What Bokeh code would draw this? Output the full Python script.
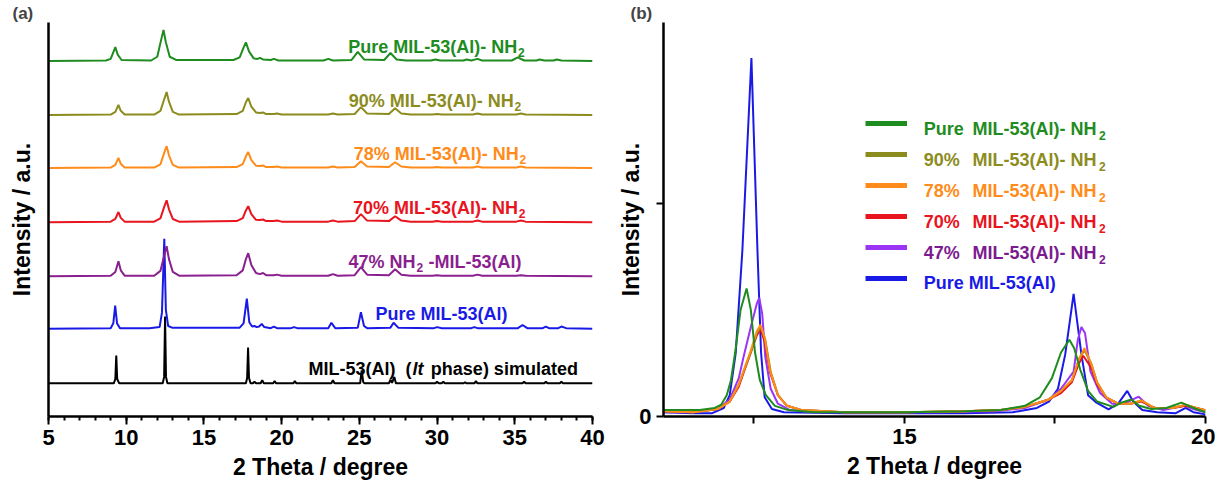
from bokeh.plotting import figure
from bokeh.layouts import row
from bokeh.models import Range1d, FixedTicker, Label, Legend, LegendItem
from bokeh.embed import file_html
from bokeh.resources import INLINE

FONT = "Liberation Sans"
NAN = float("nan")

# ---------------- data: panel (a), 2theta (deg), intensity above each baseline (a.u.)
sim_a = [(5.0,0.0),(9.2,0.0),(9.3,0.08),(9.36,0.52),(9.42,0.08),(9.55,0.0),
         (12.35,0.0),(12.44,0.12),(12.5,1.25),(12.56,0.12),(12.65,0.0),
         (17.7,0.0),(17.78,0.1),(17.84,0.67),(17.9,0.1),(18.0,0.0),
         (18.15,0.0),(18.25,0.03),(18.35,0.0),(18.65,0.0),(18.75,0.06),(18.85,0.0),
         (19.45,0.0),(19.55,0.04),(19.65,0.0),(20.75,0.0),(20.85,0.04),(20.95,0.0),
         (23.2,0.0),(23.3,0.06),(23.4,0.0),(25.05,0.0),(25.15,0.24),(25.25,0.02),(25.35,0.0),
         (26.9,0.0),(27.0,0.07),(27.1,0.01),(27.25,0.12),(27.35,0.0),
         (29.9,0.0),(30.0,0.03),(30.1,0.0),(30.3,0.0),(30.4,0.03),(30.5,0.0),
         (31.7,0.0),(31.8,0.02),(31.9,0.0),(32.4,0.0),(32.5,0.04),(32.6,0.0),
         (35.5,0.0),(35.6,0.03),(35.7,0.0),(36.9,0.0),(37.0,0.03),(37.1,0.0),
         (37.9,0.0),(38.0,0.03),(38.1,0.0),(40.0,0.0)]

blue_a = [(5.0,0.0),(9.0,0.01),(9.17,0.1),(9.29,0.43),(9.41,0.1),(9.6,0.01),
          (11.5,0.01),(12.15,0.03),(12.3,0.3),(12.45,1.68),(12.55,0.35),(12.7,0.05),(12.95,0.02),
          (17.3,0.02),(17.55,0.1),(17.76,0.56),(17.92,0.12),(18.1,0.04),(18.25,0.05),(18.4,0.03),
          (18.55,0.04),(18.72,0.09),(18.88,0.03),(19.3,0.01),(19.5,0.04),(19.7,0.01),
          (20.6,0.01),(20.8,0.03),(21.0,0.01),(23.0,0.01),(23.2,0.11),(23.45,0.01),
          (24.9,0.02),(25.1,0.31),(25.3,0.05),(25.5,0.01),(27.0,0.02),(27.2,0.11),(27.5,0.02),
          (29.8,0.01),(30.0,0.03),(30.3,0.01),(32.2,0.01),(32.4,0.03),(32.6,0.01),
          (35.2,0.01),(35.5,0.07),(35.8,0.01),(36.8,0.01),(37.0,0.04),(37.2,0.01),
          (37.8,0.01),(38.0,0.04),(38.3,0.01),(40.0,0.0)]

purple_a = [(5.0,0.0),(9.0,0.01),(9.3,0.08),(9.5,0.28),(9.65,0.11),(9.9,0.01),
            (11.8,0.01),(12.2,0.1),(12.45,0.39),(12.6,0.56),(12.75,0.32),(13.0,0.08),(13.4,0.01),
            (17.1,0.02),(17.5,0.11),(17.7,0.32),(17.85,0.43),(18.05,0.21),(18.35,0.06),
            (18.6,0.04),(18.8,0.06),(19.0,0.02),(19.5,0.02),(19.7,0.03),(20.0,0.01),
            (23.0,0.01),(23.3,0.04),(23.6,0.01),(24.7,0.02),(25.1,0.17),(25.5,0.03),
            (26.9,0.02),(27.3,0.13),(27.7,0.03),(28.3,0.01),(29.7,0.01),(30.0,0.02),(30.3,0.01),
            (32.3,0.01),(32.6,0.03),(32.9,0.01),(35.1,0.01),(35.4,0.02),(35.7,0.01),(40.0,0.0)]

red_a = [(5.0,0.0),(9.0,0.01),(9.3,0.06),(9.5,0.19),(9.65,0.08),(9.9,0.01),
         (11.8,0.01),(12.2,0.07),(12.45,0.29),(12.6,0.41),(12.75,0.24),(13.0,0.06),(13.4,0.01),
         (17.1,0.02),(17.5,0.075),(17.7,0.22),(17.85,0.30),(18.05,0.15),(18.35,0.045),
         (18.6,0.04),(18.8,0.05),(19.0,0.02),(19.5,0.02),(19.7,0.03),(20.0,0.01),
         (23.0,0.01),(23.3,0.03),(23.6,0.01),(24.7,0.02),(25.1,0.15),(25.5,0.03),
         (26.9,0.02),(27.3,0.11),(27.7,0.03),(28.3,0.01),(29.7,0.01),(30.0,0.02),(30.3,0.01),
         (32.3,0.01),(32.6,0.03),(32.9,0.01),(35.1,0.01),(35.4,0.03),(35.7,0.01),(40.0,0.0)]

orange_a = [(5.0,0.0),(9.0,0.01),(9.3,0.06),(9.5,0.19),(9.65,0.08),(9.9,0.01),
            (11.8,0.01),(12.2,0.07),(12.45,0.29),(12.6,0.41),(12.75,0.24),(13.0,0.06),(13.4,0.01),
            (17.1,0.02),(17.5,0.075),(17.7,0.22),(17.85,0.30),(18.05,0.15),(18.35,0.045),
            (18.6,0.04),(18.8,0.05),(19.0,0.02),(19.5,0.02),(19.7,0.03),(20.0,0.01),
            (23.0,0.01),(23.3,0.03),(23.6,0.01),(24.7,0.02),(25.1,0.13),(25.5,0.03),
            (26.9,0.02),(27.3,0.11),(27.7,0.03),(28.3,0.01),(29.7,0.01),(30.0,0.02),(30.3,0.01),
            (32.3,0.01),(32.6,0.03),(32.9,0.01),(35.1,0.01),(35.4,0.03),(35.7,0.01),(40.0,0.0)]

olive_a = [(5.0,0.0),(9.0,0.01),(9.3,0.06),(9.5,0.19),(9.65,0.08),(9.9,0.01),
           (11.8,0.01),(12.2,0.08),(12.45,0.30),(12.6,0.43),(12.75,0.25),(13.0,0.06),(13.4,0.01),
           (17.1,0.02),(17.5,0.08),(17.7,0.24),(17.85,0.32),(18.05,0.16),(18.35,0.05),
           (18.6,0.04),(18.8,0.05),(19.0,0.02),(19.5,0.02),(19.7,0.03),(20.0,0.01),
           (23.0,0.01),(23.3,0.03),(23.6,0.01),(24.7,0.02),(25.1,0.15),(25.5,0.03),
           (26.9,0.02),(27.3,0.13),(27.7,0.03),(28.3,0.01),(29.7,0.01),(30.0,0.02),(30.3,0.01),
           (32.3,0.01),(32.6,0.03),(32.9,0.01),(35.1,0.01),(35.4,0.03),(35.7,0.01),(40.0,0.0)]

green_a = [(5.0,0.0),(8.7,0.01),(9.0,0.04),(9.15,0.15),(9.3,0.26),(9.45,0.12),(9.7,0.02),
           (11.6,0.01),(12.0,0.08),(12.25,0.4),(12.4,0.58),(12.55,0.35),(12.8,0.08),(13.2,0.02),
           (16.9,0.02),(17.3,0.07),(17.55,0.25),(17.7,0.35),(17.9,0.18),(18.2,0.05),
           (18.45,0.04),(18.6,0.06),(18.8,0.03),(19.3,0.02),(19.5,0.04),(19.8,0.01),
           (22.7,0.01),(23.0,0.04),(23.3,0.01),(24.5,0.02),(24.9,0.17),(25.3,0.03),
           (26.6,0.02),(27.0,0.15),(27.4,0.03),(28.0,0.01),(29.6,0.01),(29.9,0.03),(30.2,0.01),
           (31.7,0.01),(31.9,0.03),(32.2,0.01),(32.6,0.04),(32.9,0.01),(34.8,0.01),(35.2,0.07),
           (35.6,0.01),(36.4,0.01),(36.6,0.03),(36.9,0.01),(37.5,0.01),(37.7,0.03),(38.0,0.01),(40.0,0.0)]

# ---------------- data: panel (b)
blue_b = [(11.0,0.02),(11.5,0.015),(11.8,0.015),(12.0,0.04),(12.1,0.1),(12.2,0.3),(12.31,0.78),
          (12.46,1.68),(12.56,0.78),(12.62,0.3),(12.68,0.09),(12.8,0.035),(13.0,0.02),(14.0,0.015),
          (15.0,0.015),(16.0,0.015),(16.8,0.02),(17.2,0.04),(17.4,0.07),(17.55,0.13),(17.67,0.29),
          (17.81,0.575),(17.94,0.29),(18.05,0.1),(18.19,0.065),(18.39,0.033),(18.55,0.06),
          (18.7,0.12),(18.8,0.07),(18.95,0.03),(19.2,0.02),(19.5,0.015),(19.67,0.04),(19.8,0.02),(20.0,0.01)]

purple_b = [(11.0,0.02),(11.5,0.02),(11.9,0.035),(12.1,0.08),(12.25,0.18),(12.33,0.28),(12.45,0.42),
            (12.55,0.53),(12.59,0.556),(12.64,0.48),(12.69,0.28),(12.78,0.13),(12.9,0.06),(13.1,0.03),
            (13.5,0.02),(14.5,0.02),(15.5,0.02),(16.5,0.025),(17.0,0.04),(17.4,0.08),(17.6,0.13),
            (17.81,0.21),(17.88,0.36),(17.94,0.42),(18.0,0.39),(18.09,0.21),(18.25,0.11),(18.45,0.06),
            (18.65,0.06),(18.89,0.093),(19.05,0.05),(19.3,0.03),(19.65,0.05),(19.85,0.03),(20.0,0.02)]

red_b = [(11.0,0.025),(11.5,0.02),(11.9,0.035),(12.1,0.07),(12.25,0.14),(12.33,0.205),(12.45,0.3),
         (12.55,0.38),(12.61,0.41),(12.68,0.35),(12.77,0.205),(12.9,0.1),(13.05,0.05),(13.3,0.03),
         (14.0,0.02),(15.0,0.02),(16.0,0.025),(16.6,0.03),(17.0,0.045),(17.4,0.08),(17.6,0.11),
         (17.78,0.16),(17.9,0.25),(17.97,0.285),(18.1,0.23),(18.2,0.15),(18.35,0.09),(18.55,0.06),
         (18.75,0.06),(18.94,0.07),(19.15,0.04),(19.45,0.04),(19.67,0.05),(19.85,0.04),(20.0,0.03)]

olive_b = [(11.0,0.025),(11.5,0.02),(11.9,0.035),(12.1,0.07),(12.25,0.15),(12.33,0.21),(12.45,0.3),
           (12.55,0.39),(12.62,0.42),(12.69,0.36),(12.78,0.21),(12.9,0.1),(13.05,0.05),(13.3,0.03),
           (14.0,0.02),(15.0,0.02),(16.0,0.025),(16.6,0.03),(17.0,0.045),(17.4,0.08),(17.6,0.12),
           (17.78,0.17),(17.9,0.27),(17.99,0.31),(18.1,0.25),(18.2,0.16),(18.35,0.09),(18.55,0.06),
           (18.75,0.06),(18.94,0.075),(19.15,0.04),(19.45,0.04),(19.67,0.055),(19.85,0.04),(20.0,0.03)]

orange_b = [(11.0,0.025),(11.5,0.02),(11.9,0.035),(12.1,0.07),(12.25,0.15),(12.33,0.215),(12.45,0.31),
            (12.55,0.4),(12.61,0.43),(12.68,0.37),(12.77,0.215),(12.9,0.1),(13.05,0.05),(13.3,0.03),
            (14.0,0.02),(15.0,0.02),(16.0,0.025),(16.6,0.03),(17.0,0.045),(17.4,0.08),(17.6,0.12),
            (17.78,0.17),(17.9,0.27),(17.99,0.32),(18.1,0.25),(18.2,0.16),(18.35,0.09),(18.55,0.06),
            (18.75,0.06),(18.94,0.075),(19.15,0.04),(19.45,0.04),(19.67,0.055),(19.85,0.04),(20.0,0.03)]

green_b = [(11.0,0.03),(11.3,0.03),(11.6,0.03),(11.85,0.04),(11.96,0.056),(12.05,0.1),(12.12,0.17),
           (12.19,0.3),(12.28,0.5),(12.38,0.6),(12.45,0.5),(12.52,0.3),(12.6,0.17),(12.7,0.1),
           (12.85,0.05),(13.07,0.03),(13.5,0.02),(14.0,0.02),(15.0,0.02),(16.0,0.025),(16.6,0.03),
           (17.0,0.05),(17.25,0.09),(17.45,0.18),(17.6,0.3),(17.74,0.36),(17.82,0.32),(17.92,0.22),
           (18.05,0.12),(18.2,0.07),(18.47,0.045),(18.6,0.065),(18.77,0.08),(18.9,0.05),(19.1,0.035),
           (19.35,0.04),(19.6,0.065),(19.8,0.04),(20.0,0.02)]

# ---------------- texts
sample_prefix_b = ["Pure", "90%", "78%", "70%", "47%", "Pure MIL-53(Al)"]
NH2_BODY = "MIL-53(Al)- NH"

# ---------------- styles
C_GREEN, C_OLIVE, C_ORANGE, C_RED = "#1e8c1e", "#8c8c1e", "#ff8c1a", "#e8141e"
C_PURPLE, C_VIOLET, C_BLUE, C_BLACK = "#8a1f8f", "#9a35f5", "#1a1ae6", "#000000"


def style_axes(p):
    p.outline_line_color = None
    p.grid.visible = False
    p.background_fill_color = "white"
    p.title.text_font = FONT
    p.title.text_font_style = "bold"
    p.title.text_font_size = "17px"
    p.title.align = "left"
    p.title.standoff = 0
    for ax in (p.xaxis[0], p.yaxis[0]):
        ax.axis_line_width = 2.5
        ax.axis_line_color = "black"
        ax.major_tick_line_width = 2
        ax.minor_tick_line_width = 2
        ax.major_tick_in = 0
        ax.minor_tick_in = 0
        ax.major_label_text_font = FONT
        ax.major_label_text_font_style = "bold"
        ax.major_label_text_font_size = "22px"
        ax.major_label_text_color = "black"
        ax.axis_label_text_font = FONT
        ax.axis_label_text_font_style = "bold"
        ax.axis_label_text_font_size = "23px"
        ax.axis_label_text_color = "black"


def lab(p, x, y, text, color, align="left", size="18px", style="bold", baseline="alphabetic"):
    p.add_layout(Label(x=x, y=y, text=text, text_align=align, text_baseline=baseline,
                       text_font=FONT, text_font_style=style, text_font_size=size, text_color=color))


# ================= panel (a)
pa = figure(width=605, height=486, x_range=Range1d(5, 40), y_range=Range1d(0, 7.36),
            output_backend="svg", toolbar_location=None, title="(a)",
            min_border_left=48, min_border_right=13, min_border_top=22, min_border_bottom=70)
style_axes(pa)
pa.title.offset = -36
pa.xaxis.ticker = FixedTicker(ticks=[5, 10, 15, 20, 25, 30, 35, 40], minor_ticks=list(range(5, 41)))
pa.xaxis.major_tick_out = 8
pa.xaxis.minor_tick_out = 4
pa.xaxis.major_label_standoff = 5
pa.xaxis.axis_label = "2 Theta / degree"
pa.xaxis.axis_label_standoff = 6
pa.yaxis.ticker = FixedTicker(ticks=[])
pa.yaxis.major_tick_line_color = None
pa.yaxis.minor_tick_line_color = None
pa.yaxis.axis_label = "Intensity / a.u."
pa.yaxis.axis_label_standoff = 14

offsets_a = [0.62, 1.64, 2.62, 3.63, 4.64, 5.63, 6.64]
series_a = [sim_a, blue_a, purple_a, red_a, orange_a, olive_a, green_a]
colors_a = [C_BLACK, C_BLUE, C_PURPLE, C_RED, C_ORANGE, C_OLIVE, C_GREEN]

for pts, off, col in zip(series_a, offsets_a, colors_a):
    pa.line([q[0] for q in pts], [q[1] + off for q in pts], line_color=col, line_width=2)

TY = 0.27   # label baseline above curve baseline
SUB = 0.11  # subscript drop
# NH2-terminated labels: (prefix, end-x of "NH", offset index, colour)
for prefix, xend, idx in [("Pure ", 35.16, 6), ("90% ", 34.93, 5), ("78% ", 35.25, 4), ("70% ", 35.2, 3)]:
    yb = offsets_a[idx] + TY
    lab(pa, xend, yb, prefix + NH2_BODY, colors_a[idx], align="right")
    lab(pa, xend + 0.05, yb - SUB, "2", colors_a[idx], size="12px")
# 47% NH2 -MIL-53(Al)
yb = offsets_a[2] + TY
lab(pa, 28.62, yb, "47% NH", C_PURPLE, align="right")
lab(pa, 28.67, yb - SUB, "2", C_PURPLE, size="12px")
lab(pa, 29.45, yb, "-MIL-53(Al)", C_PURPLE)
# Pure MIL-53(Al)
lab(pa, 30.29, offsets_a[1] + TY, "Pure MIL-53(Al)", C_BLUE, align="center")
# simulated
yb = offsets_a[0] + TY
lab(pa, 28.36, yb, "MIL-53(Al)\u00a0\u00a0(", C_BLACK, align="right")
lab(pa, 28.42, yb, "lt", C_BLACK, style="bold italic")
lab(pa, 29.6, yb, "phase) simulated", C_BLACK)

# ================= panel (b)
pb = figure(width=610, height=486, x_range=Range1d(11, 20), y_range=Range1d(0, 1.847),
            output_backend="svg", toolbar_location=None, title="(b)",
            min_border_left=58, min_border_right=10, min_border_top=22, min_border_bottom=70)
style_axes(pb)
pb.title.offset = -33
pb.xaxis.ticker = FixedTicker(ticks=[12.5, 15, 17.5, 20])
pb.xaxis.major_label_overrides = {12.5: "", 17.5: ""}
pb.xaxis.major_tick_out = 7
pb.xaxis.major_label_standoff = 5
pb.xaxis.axis_label = "2 Theta / degree"
pb.xaxis.axis_label_standoff = 6
pb.yaxis.ticker = FixedTicker(ticks=[0, 1])
pb.yaxis.major_label_overrides = {1: ""}
pb.yaxis.major_tick_out = 7
pb.yaxis.major_label_standoff = 5
pb.yaxis.axis_label = "Intensity / a.u."
pb.yaxis.axis_label_standoff = -8

series_b = [blue_b, purple_b, red_b, olive_b, orange_b, green_b]
colors_b = [C_BLUE, C_VIOLET, C_RED, C_OLIVE, C_ORANGE, C_GREEN]
for pts, col in zip(series_b, colors_b):
    pb.line([q[0] for q in pts], [q[1] for q in pts], line_color=col, line_width=2)

leg_line_colors = [C_GREEN, C_OLIVE, C_ORANGE, C_RED, C_VIOLET, C_BLUE]
leg_text_colors = [C_GREEN, C_OLIVE, C_ORANGE, C_RED, "#7c1a90", C_BLUE]
ROW0, DROW = 1.350, 0.1453   # text baselines of legend rows
for i, (lc, tc, pre) in enumerate(zip(leg_line_colors, leg_text_colors, sample_prefix_b)):
    r = pb.line(x=[NAN], y=[NAN], line_color=lc, line_width=5)
    leg = Legend(items=[LegendItem(label="\u00a0", renderers=[r])], location=(202, 283 - 31 * i),
                 border_line_color=None, background_fill_alpha=0, padding=0, margin=0,
                 glyph_width=42, glyph_height=20, label_height=20, label_standoff=0,
                 label_text_font_size="10px", spacing=0)
    pb.add_layout(leg)
    yb = ROW0 - DROW * i
    lab(pb, 15.32, yb, pre, tc)
    if i < 5:
        lab(pb, 18.19, yb, NH2_BODY, tc, align="right")
        lab(pb, 18.23, yb - 0.033, "2", tc, size="12px")

layout = row(pa, pb)
open("out.html", "w").write(file_html(layout, INLINE))
